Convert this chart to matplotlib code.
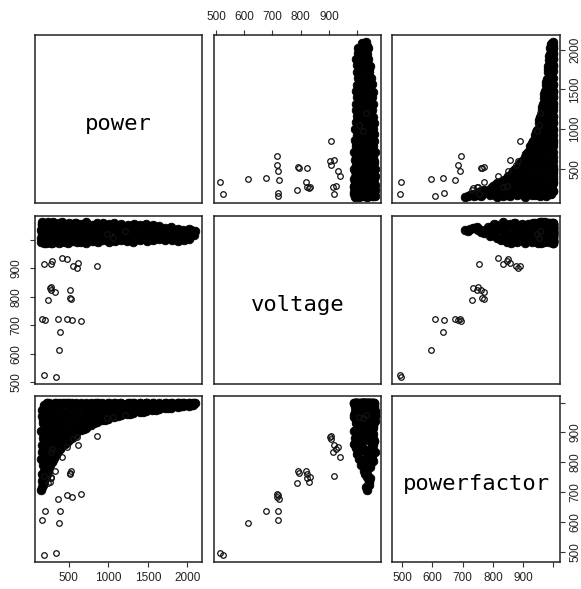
import matplotlib
matplotlib.use('Agg')
import matplotlib.pyplot as plt
from matplotlib import font_manager as fm

# ---------------- data ----------------
variables = ['power', 'voltage', 'powerfactor']

# dense cluster of records (power, voltage, powerfactor)
cl_power = [152, 155, 158, 151, 157, 153, 159,
            163, 168, 172, 165, 170, 175, 162,
            186, 192, 195, 188, 197, 184, 191,
            212, 218, 210, 221, 214, 208, 219,
            238, 244, 236, 247, 241, 233, 245,
            266, 273, 268, 276, 264, 272,
            296, 303, 298, 306, 301, 294,
            332, 338, 330, 341, 336, 334,
            366, 374, 369, 377, 363, 372,
            406, 413, 409, 416, 403, 411,
            447, 454, 450, 457, 445,
            497, 504, 501, 508, 494, 503,
            546, 553, 549, 556, 543,
            597, 604, 600, 607, 594,
            656, 663, 659, 666, 652,
            716, 723, 719, 726, 713,
            786, 793, 789, 796, 783,
            856, 863, 859, 866, 852,
            926, 933, 929, 936, 922,
            996, 1003, 999, 1006, 993,
            1076, 1083, 1079, 1086, 1073,
            1156, 1163, 1159, 1166, 1153,
            1236, 1243, 1239, 1246,
            1316, 1323, 1319, 1326, 1313,
            1396, 1403, 1399, 1406,
            1476, 1483, 1479, 1486, 1473,
            1556, 1563, 1559, 1566,
            1636, 1643, 1639, 1646,
            1716, 1723, 1719, 1726,
            1796, 1803, 1799, 1806,
            1876, 1883, 1879, 1886,
            1946, 1953, 1949,
            2016, 2023, 2019,
            2076, 2083, 2095,
            177, 179, 180, 176, 181, 178, 182,
            226, 229, 231, 227, 225, 230, 228,
            283, 287, 285, 289, 282, 286,
            318, 322, 321, 317, 324, 319,
            388, 392, 391, 386, 394,
            472, 477, 475, 479, 470,
            572, 577, 574, 579,
            688, 693, 691, 686,
            822, 827, 825, 829,
            962, 967, 965,
            1118, 1123, 1121,
            1277, 1283, 1280,
            1438, 1443,
            1598, 1603,
            1757, 1762,
            1918, 1923,
            2048, 2054]

cl_voltage = [1036, 1043, 1027, 1007, 1056, 991, 1022,
              1032, 1045, 1014, 1062, 997, 1038, 1051,
              1041, 1024, 1052, 989, 1034, 1060, 1005,
              1034, 1046, 1000, 1058, 1019, 988, 1042,
              1028, 1055, 994, 1039, 1011, 1062, 1022,
              1044, 1003, 1057, 990, 1029, 1048,
              1017, 1053, 995, 1035, 1062, 1006,
              1039, 992, 1056, 1020, 1000, 1049,
              1027, 1060, 997, 1044, 1012, 989,
              1051, 1002, 1034, 1062, 991, 1022,
              1014, 1045, 994, 1057, 1029,
              1038, 999, 1061, 1018, 989, 1048,
              1026, 1055, 995, 1040, 1010,
              1053, 1005, 1033, 991, 1060,
              1020, 1046, 994, 1036, 1056,
              1000, 1042, 1062, 1013, 990,
              1031, 1054, 995, 1021, 1045,
              1058, 1006, 1037, 992, 1025,
              1018, 1048, 998, 1060, 1034,
              1042, 993, 1028, 1055, 1011,
              1003, 1051, 1033, 995, 1059,
              1038, 1000, 1056, 1017, 1045,
              1014, 1053, 997, 1034,
              1044, 1005, 1057, 1024, 994,
              1029, 1000, 1051, 1014,
              1046, 1007, 1035, 996, 1055,
              1022, 1051, 999, 1038,
              1040, 1002, 1048, 1018,
              1011, 1043, 998, 1029,
              1036, 1000, 1045, 1017,
              1021, 1039, 997, 1029,
              1034, 1001, 1024,
              1012, 1038, 1004,
              1028, 1017, 1031,
              1040, 1030, 1050, 1008, 1035, 996, 1058,
              1033, 1019, 1047, 993, 1055, 1026, 1009,
              1024, 1052, 1004, 1040, 990, 1060,
              1046, 1010, 1031, 1057, 997, 1020,
              1023, 1054, 1002, 1039, 1015,
              1050, 1008, 1026, 992, 1043,
              1016, 1040, 1001, 1058,
              1047, 1022, 1005, 1035,
              1009, 1041, 1028, 996,
              1033, 1013, 1050,
              1025, 1050, 1003,
              1039, 1010, 1027,
              1020, 1043,
              1030, 1008,
              1022, 1040,
              1012, 1030,
              1036, 1020]

cl_pf = [708, 736, 762, 812, 858, 905, 955,
         718, 748, 790, 835, 880, 930, 975,
         735, 770, 815, 860, 905, 950, 992,
         752, 785, 828, 870, 915, 958, 998,
         770, 805, 848, 888, 930, 972, 997,
         792, 830, 868, 905, 945, 985,
         807, 840, 878, 915, 955, 995,
         824, 858, 895, 935, 972, 999,
         837, 872, 908, 945, 985, 1000,
         850, 885, 920, 958, 992, 1000,
         862, 895, 930, 965, 998,
         874, 905, 938, 972, 999, 1000,
         886, 915, 948, 980, 1000,
         897, 925, 955, 985, 1000,
         907, 933, 960, 988, 1000,
         915, 940, 967, 993, 1000,
         924, 948, 972, 996, 1000,
         934, 955, 978, 999, 1000,
         940, 962, 983, 996, 1000,
         946, 966, 986, 998, 1000,
         952, 970, 990, 999, 1000,
         957, 974, 992, 1000, 1000,
         961, 977, 994, 1000,
         965, 980, 996, 1000, 998,
         969, 983, 998, 1000,
         972, 986, 999, 1000, 999,
         975, 988, 1000, 1000,
         978, 990, 996, 1000,
         981, 993, 997, 1000,
         983, 995, 998, 1000,
         986, 997, 999, 1000,
         988, 999, 1000,
         990, 1000, 1000,
         993, 997, 999,
         725, 760, 800, 845, 890, 940, 985,
         760, 795, 838, 880, 922, 965, 1000,
         800, 835, 873, 912, 950, 990,
         815, 850, 887, 925, 962, 998,
         845, 880, 915, 950, 988,
         868, 900, 935, 968, 998,
         890, 920, 950, 980,
         910, 937, 963, 990,
         930, 952, 975, 998,
         943, 964, 985,
         954, 975, 995,
         962, 982, 998,
         970, 988,
         976, 993,
         982, 996,
         987, 997,
         991, 1000]

# isolated records (open circles)
out_power = [335, 180, 376, 387, 156, 200, 364, 479, 545, 660,
             240, 262, 275, 330, 518, 525, 512, 270,
             180, 275, 285, 410, 478, 550, 605, 617, 852,
             1055, 1205, 980]
out_voltage = [516, 524, 613, 677, 721, 718, 723, 720, 717, 715,
               787, 829, 822, 818, 795, 792, 822, 833,
               916, 914, 924, 938, 931, 907, 902, 918, 908,
               1005, 1030, 1020]
out_pf = [497, 491, 596, 636, 608, 637, 676, 690, 683, 693,
          731, 735, 748, 771, 765, 770, 762, 752,
          754, 835, 845, 817, 850, 878, 884, 857, 888,
          951, 957, 947]

assert len(cl_power) == len(cl_voltage) == len(cl_pf)
assert len(out_power) == len(out_voltage) == len(out_pf)

power_ticks = [500, 1000, 1500, 2000]
power_labels = ['500', '1000', '1500', '2000']
voltage_ticks = [500, 600, 700, 800, 900, 1000]
voltage_labels = ['500', '600', '700', '800', '900', '']
pf_ticks = [500, 600, 700, 800, 900, 1000]
pf_labels = ['500', '600', '700', '800', '900', '']

# ---------------- drawing ----------------
names = {f.name for f in fm.fontManager.ttflist}
if 'Liberation Sans Narrow' in names:
    tick_font, tick_size = 'Liberation Sans Narrow', 10
elif 'Liberation Sans' in names:
    tick_font, tick_size = 'Liberation Sans', 8.5
else:
    tick_font, tick_size = 'DejaVu Sans', 8

W, H = 581, 589
fig = plt.figure(figsize=(W / 100, H / 100), dpi=100)
fig.patch.set_facecolor('white')

col_px = [(35, 202), (214, 381), (392, 560)]
row_px = [(35, 203), (216, 384), (396, 562)]

cluster = {'power': cl_power, 'voltage': cl_voltage, 'powerfactor': cl_pf}
outl = {'power': out_power, 'voltage': out_voltage, 'powerfactor': out_pf}
limits = {'power': (72, 2185), 'voltage': (493, 1084), 'powerfactor': (466, 1022)}
ticks = {'power': (power_ticks, power_labels),
         'voltage': (voltage_ticks, voltage_labels),
         'powerfactor': (pf_ticks, pf_labels)}

edge = '#222222'

for i in range(3):
    for j in range(3):
        x0, x1 = col_px[j]
        y0, y1 = row_px[i]
        ax = fig.add_axes([x0 / W, 1 - y1 / H, (x1 - x0) / W, (y1 - y0) / H])
        vx, vy = variables[j], variables[i]
        ax.set_xlim(limits[vx])
        ax.set_ylim(limits[vy])
        ax.set_xticks([])
        ax.set_yticks([])
        for s in ax.spines.values():
            s.set_linewidth(1.1)
            s.set_color(edge)
        ax.tick_params(direction='out', length=3.8, width=0.8, color='#333333',
                       labelsize=tick_size, labelcolor='#222222')
        if i == j:
            ax.text(0.5, 0.47, vx, ha='center', va='center', transform=ax.transAxes,
                    fontsize=16, family='DejaVu Sans Mono', color='black')
        else:
            ax.plot(cluster[vx], cluster[vy], 'o', ms=6.2, mfc='black', mec='black',
                    mew=0.6, ls='none')
            ax.plot(outl[vx], outl[vy], 'o', ms=4.0, mfc='none', mec='#111111',
                    mew=0.9, ls='none')

        # outer axes, R pairs() style
        if i == 0 and j == 1:
            t, l = ticks[vx]
            ax.xaxis.set_ticks_position('top')
            ax.set_xticks(t, l, fontfamily=tick_font)
            ax.tick_params(axis='x', pad=5.0)
        if i == 1 and j == 0:
            t, l = ticks[vy]
            ax.set_yticks(t, l, fontfamily=tick_font, rotation=90, va='center')
            ax.tick_params(axis='y', pad=5.0)
        if i == 0 and j == 2:
            t, l = ticks[vy]
            ax.yaxis.set_ticks_position('right')
            ax.set_yticks(t, l, fontfamily=tick_font, rotation=90, va='center')
            ax.tick_params(axis='y', pad=3.0)
        if i == 2 and j == 0:
            t, l = ticks[vx]
            ax.set_xticks(t, l, fontfamily=tick_font)
            ax.tick_params(axis='x', pad=3.5)
        if i == 2 and j == 2:
            t, l = ticks[vx]
            ax.set_xticks(t, l, fontfamily=tick_font)
            ax.tick_params(axis='x', pad=3.5)
            t, l = ticks[vy]
            ax.yaxis.set_ticks_position('right')
            ax.set_yticks(t, l, fontfamily=tick_font, rotation=90, va='center')
            ax.tick_params(axis='y', pad=3.0)

fig.savefig('out.png', dpi=100, facecolor='white')
